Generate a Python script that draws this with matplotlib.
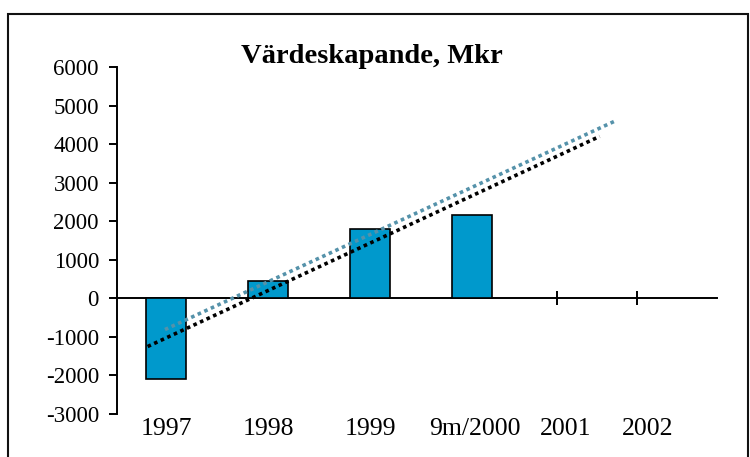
import matplotlib
matplotlib.use('Agg')
import matplotlib.pyplot as plt
from matplotlib.patches import Rectangle

plt.rcParams['font.family'] = ['Liberation Serif', 'DejaVu Serif']
plt.rcParams['axes.unicode_minus'] = False

# data
categories = ['1997', '1998', '1999', '9m/2000', '2001', '2002']
label_pos = [0, 1, 2, 3.03, 3.92, 4.72]
bar_x = [0, 1, 2, 3]
values = [-2080, 460, 1800, 2160]

# trend lines (start / end)
trend_black_x = [-0.18, 4.25]
trend_black_y = [-1250, 4200]
trend_blue_x = [-0.01, 4.41]
trend_blue_y = [-810, 4610]

# extra axis ticks on the zero line
zero_ticks = [3.83, 4.62]

fig = plt.figure(figsize=(7.5, 4.57), dpi=100)
ax = fig.add_axes([0.156, 0.0941, 0.8, 0.7593])

ax.bar(bar_x, values, width=0.39, color='#0099CC', edgecolor='black', linewidth=1.2, zorder=2)

ax.plot(trend_blue_x, trend_blue_y, color='#5592AA', lw=2.6, dashes=(1, 1),
        dash_capstyle='butt', zorder=3)
ax.plot(trend_black_x, trend_black_y, color='black', lw=2.6, dashes=(1, 1),
        dash_capstyle='butt', zorder=4)

ax.set_xlim(-0.48, 5.40)
ax.set_ylim(-3000, 6000)
ax.set_yticks(range(-3000, 6001, 1000))
ax.tick_params(axis='y', direction='out', length=6, width=1.4, pad=7, labelsize=16.5)

for s in ['top', 'right']:
    ax.spines[s].set_visible(False)
ax.spines['left'].set_linewidth(1.4)
ax.spines['bottom'].set_position(('data', 0))
ax.spines['bottom'].set_linewidth(1.4)
ax.spines['bottom'].set_zorder(1)

ax.set_xticks(zero_ticks)
ax.set_xticklabels([])
ax.tick_params(axis='x', direction='inout', length=10, width=1.4)

secax = ax.secondary_xaxis(0.0)
secax.set_xticks(label_pos)
secax.set_xticklabels(categories)
secax.tick_params(axis='x', length=0, pad=3, labelsize=18.5)
secax.spines['bottom'].set_visible(False)

fig.text(372 / 750, 1 - 63 / 457, 'Värdeskapande, Mkr', ha='center', va='baseline',
         fontsize=20.5, fontweight='bold')

fig.patches.append(Rectangle((8 / 750, -0.05), 740 / 750, 1 - 14 / 457 + 0.05,
                             transform=fig.transFigure, fill=False,
                             edgecolor='#111111', lw=1.5))

fig.savefig('out.png', dpi=100)
